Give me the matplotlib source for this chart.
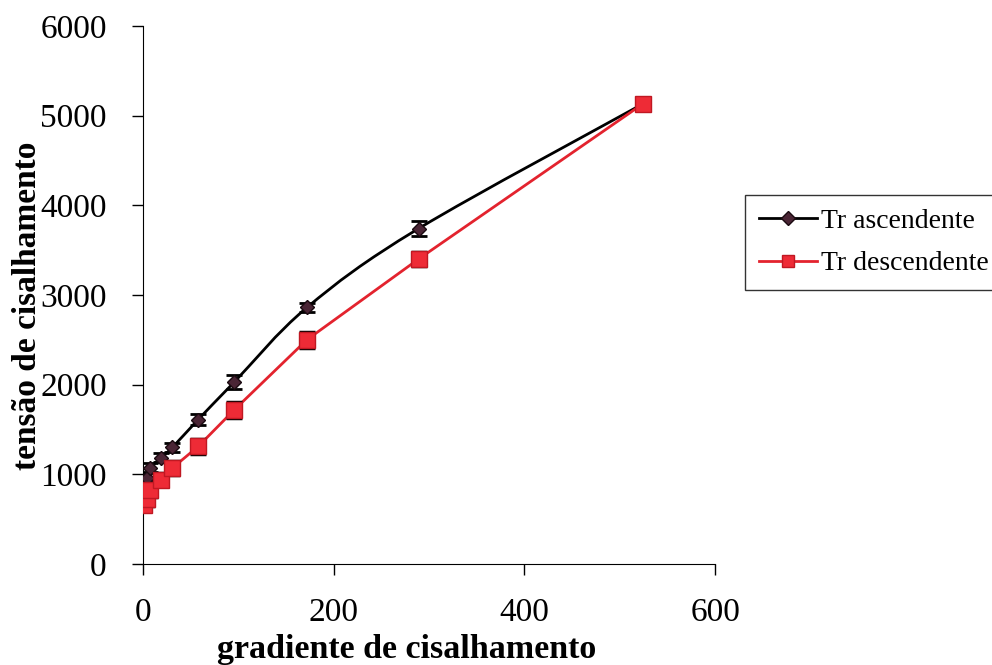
import numpy as np
import matplotlib
matplotlib.use("Agg")
import matplotlib.pyplot as plt
from matplotlib.path import Path
from matplotlib.patches import PathPatch
from matplotlib.lines import Line2D

# shear rate values (x) shared by both series
gradiente = [1.5, 4, 8, 19, 31, 58, 96, 172, 289, 524]
# ascending shear stress
tr_ascendente = [860, 960, 1070, 1185, 1300, 1610, 2030, 2860, 3740, 5130]
err_ascendente = [50, 50, 50, 50, 50, 60, 80, 50, 80, 50]
# descending shear stress
tr_descendente = [660, 720, 820, 940, 1070, 1310, 1720, 2500, 3400, 5130]
err_descendente = [70, 70, 70, 75, 80, 85, 90, 90, 80, 70]

x_ticks = [0, 200, 400, 600]
y_ticks = [0, 1000, 2000, 3000, 4000, 5000, 6000]

plt.rcParams['font.family'] = ['Liberation Serif', 'DejaVu Serif']


def smooth_path(xs, ys):
    # Catmull-Rom control points turned into cubic Bezier segments (like Excel smoothed lines)
    pts = np.column_stack([xs, ys]).astype(float)
    verts = [pts[0]]
    codes = [Path.MOVETO]
    n = len(pts)
    for i in range(n - 1):
        p0 = pts[i - 1] if i > 0 else pts[i]
        p1 = pts[i]
        p2 = pts[i + 1]
        p3 = pts[i + 2] if i + 2 < n else pts[i + 1]
        c1 = p1 + (p2 - p0) / 6.0
        c2 = p2 - (p3 - p1) / 6.0
        verts += [c1, c2, p2]
        codes += [Path.CURVE4] * 3
    return Path(verts, codes)


fig = plt.figure(figsize=(9.92, 6.65), dpi=100)
ax = fig.add_axes([0.144, 0.152, 0.577, 0.809])

# black smoothed curve
ax.add_patch(PathPatch(smooth_path(gradiente, tr_ascendente), facecolor='none',
                       edgecolor='black', lw=2, zorder=2))
ax.errorbar(gradiente, tr_ascendente, yerr=err_ascendente, fmt='D', ms=7.5,
            mfc='#4a2535', mec='#1a0a10', ecolor='black', elinewidth=1.5,
            capsize=6, capthick=2, zorder=4)

ax.plot(gradiente, tr_descendente, color='#e3232e', lw=2, zorder=3)
ax.errorbar(gradiente, tr_descendente, yerr=err_descendente, fmt='s', ms=11,
            mfc='#ee2b36', mec='#c01822', ecolor='black', elinewidth=1.5,
            capsize=6, capthick=2.5, zorder=5)

ax.set_xlim(0, 600)
ax.set_ylim(0, 6000)
ax.set_xticks(x_ticks)
ax.set_yticks(y_ticks)
ax.spines['top'].set_visible(False)
ax.spines['right'].set_visible(False)
ax.tick_params(direction='out', length=8, width=1, labelsize=24, pad=18)
ax.tick_params(axis='x', pad=16)

ax.set_xlabel('gradiente de cisalhamento', fontsize=24.5, fontweight='bold')
ax.xaxis.set_label_coords(0.46, -0.13)
ax.set_ylabel('tensão de cisalhamento', fontsize=24, fontweight='bold')
ax.yaxis.set_label_coords(-0.175, 0.48)

handles = [
    Line2D([], [], color='black', lw=2, marker='D', ms=7, mfc='#4a2535', mec='#1a0a10'),
    Line2D([], [], color='#e3232e', lw=2, marker='s', ms=9, mfc='#ee2b36', mec='#c01822'),
]
leg = fig.legend(handles, ['Tr ascendente', 'Tr descendente'], loc='upper left',
                 bbox_to_anchor=(0.751, 0.707), fontsize=20, frameon=True,
                 fancybox=False, edgecolor='black', handlelength=2.1,
                 handletextpad=0.15, borderpad=0.5, labelspacing=0.6,
                 borderaxespad=0)
leg.get_frame().set_linewidth(1)

fig.savefig('out.png', dpi=100)
